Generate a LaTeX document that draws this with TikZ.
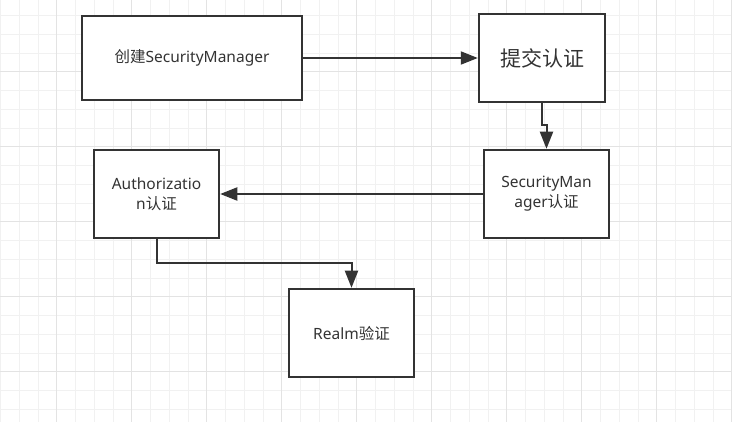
\documentclass[tikz,border=0pt]{standalone}
\usepackage{fontspec}
\setmainfont{Noto Sans}
\newfontfamily\cjk{Noto Sans CJK SC}
\usetikzlibrary{arrows.meta}
\definecolor{ink}{HTML}{333333}
\definecolor{gridminor}{HTML}{F1F1F1}
\definecolor{gridmajor}{HTML}{E3E3E3}
\begin{document}
\begin{tikzpicture}[x=1pt,y=-1pt,
  box/.style={draw=ink, line width=2.5pt, fill=white, rectangle, inner sep=0pt,
    align=center, text=ink, font=\fontsize{15.5}{20}\selectfont},
  conn/.style={draw=ink, line width=2pt, -{Triangle[length=17pt,width=13pt]}}]
\fill[white] (0,0) rectangle (732,422);
\useasboundingbox (0,0) rectangle (732,422);
% grid
\foreach \i in {0,...,38} {
  \pgfmathsetmacro{\gx}{0.45+18.75*\i}
  \draw[gridminor, line width=0.8pt] (\gx,0) -- (\gx,422);
}
\foreach \i in {0,...,22} {
  \pgfmathsetmacro{\gy}{15.45+18.75*\i}
  \draw[gridminor, line width=0.8pt] (0,\gy) -- (732,\gy);
}
\foreach \i in {0,...,9} {
  \pgfmathsetmacro{\gx}{56.7+75*\i}
  \draw[gridmajor, line width=0.9pt] (\gx,0) -- (\gx,422);
}
\foreach \i in {0,...,4} {
  \pgfmathsetmacro{\gy}{71.7+75*\i}
  \draw[gridmajor, line width=0.9pt] (0,\gy) -- (732,\gy);
}
% boxes
\node[box, minimum width=220pt, minimum height=84pt] (create) at (192,58) {{\cjk 创建}SecurityManager};
\node[box, minimum width=126pt, minimum height=88pt, font=\cjk\fontsize{21}{24}\selectfont] (submit) at (542,58) {提交认证};
\node[box, minimum width=125pt, minimum height=88pt] (sm) at (546.5,194) {SecurityMan\\ager{\cjk 认证}};
\node[box, minimum width=125pt, minimum height=88pt] (auth) at (156.5,194) {Authorizatio\\n{\cjk 认证}};
\node[box, minimum width=125pt, minimum height=88pt] (realm) at (351.5,333) {Realm{\cjk 验证}};
% connectors
\draw[conn] (create.east) -- (submit.west);
\coordinate (j1) at (542,125);
\coordinate (j2) at (546.5,125);
\draw[conn] (submit.south -| j1) -- (j1) -- (j2) -- (sm.north);
\draw[conn] (sm.west) -- (auth.east);
\coordinate (k1) at (157,263);
\coordinate (k2) at (351.5,263);
\draw[conn] (auth.south -| k1) -- (k1) -- (k2) -- (realm.north);
\end{tikzpicture}
\end{document}
